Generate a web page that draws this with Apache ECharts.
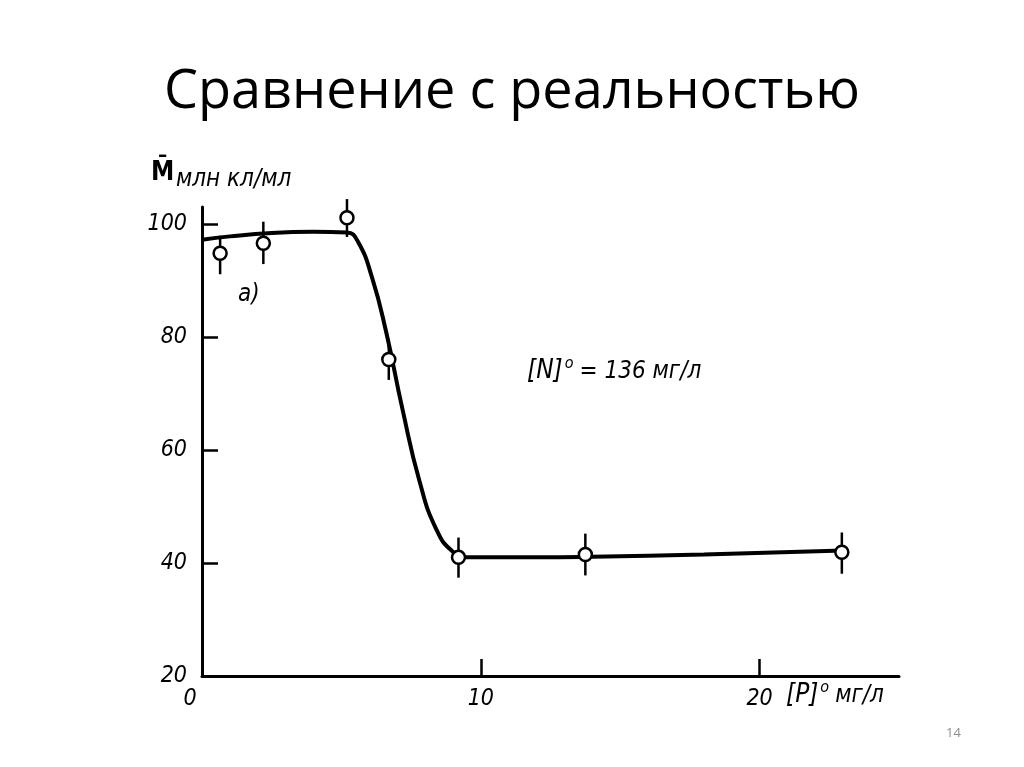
<!DOCTYPE html>
<html>
<head>
<meta charset="utf-8">
<script src="https://cdn.jsdelivr.net/npm/echarts@6/dist/echarts.min.js"></script>
<style>
html,body{margin:0;padding:0;background:#fff;}
#c{width:1024px;height:767px;}
</style>
</head>
<body>
<div id="c"></div>
<script>
// Measured points [P]0 (mg/l) vs M (mln cells/ml)
var pointX = [0.65, 2.2, 5.2, 6.7, 9.2, 13.75, 22.95];
var pointY = [94.8, 96.6, 101.1, 76.0, 41.0, 41.5, 41.9];
var errLow = [91.1, 92.9, 97.7, 72.4, 37.4, 37.8, 38.1];
var errHigh = [97.9, 100.4, 104.4, 79.6, 44.5, 45.2, 45.4];
// Fitted curve
var curveX = [0, 1, 2.5, 4, 5.2, 5.6, 6.1, 6.6, 7.2, 7.8, 8.4, 9.0, 9.6, 12, 14, 18, 23];
var curveY = [97.2, 97.8, 98.4, 98.6, 98.5, 96.8, 90.5, 81.0, 67.0, 54.5, 46.0, 42.0, 41.0, 41.0, 41.1, 41.5, 42.2];
// Ticks
var xTicks = [10, 20];
var xTickLabels = [0, 10, 20];
var yTicks = [40, 60, 80, 100];
var yTickLabels = [20, 40, 60, 80, 100];

var FONT = '"Liberation Sans Narrow","DejaVu Sans Condensed","Liberation Sans",sans-serif';

var chart = echarts.init(document.getElementById('c'));
var pts = pointX.map(function (x, i) { return [x, pointY[i]]; });
var errs = pointX.map(function (x, i) { return [x, errLow[i], errHigh[i]]; });
var curve = curveX.map(function (x, i) { return [x, curveY[i]]; });

chart.setOption({
  backgroundColor: '#fff',
  animation: false,
  title: {
    text: 'Сравнение с реальностью',
    left: 'center',
    top: 61,
    textStyle: { fontFamily: '"Open Sans", sans-serif', fontSize: 54, fontWeight: 'normal', color: '#000' }
  },
  grid: { left: 202, right: 125, top: 207, bottom: 91, containLabel: false },
  xAxis: {
    type: 'value', min: 0, max: 25,
    splitLine: { show: false },
    axisLine: { lineStyle: { color: '#000', width: 3 } },
    axisTick: { inside: true, length: 17, customValues: xTicks, lineStyle: { color: '#000', width: 2.5 } },
    axisLabel: {
      customValues: xTickLabels, margin: 12, color: '#000',
      fontFamily: FONT, fontStyle: 'italic', fontSize: 23,
      formatter: function (v) { return v === 0 ? '{z|0}' : String(v); },
      rich: { z: { fontFamily: FONT, fontStyle: 'italic', fontSize: 23, color: '#000', padding: [0, 24, 0, 0] } }
    }
  },
  yAxis: {
    type: 'value', min: 20, max: 103,
    splitLine: { show: false },
    axisLine: { lineStyle: { color: '#000', width: 3 } },
    axisTick: { inside: true, length: 16, customValues: yTicks, lineStyle: { color: '#000', width: 2.5 } },
    axisLabel: {
      customValues: yTickLabels, margin: 15, color: '#000',
      fontFamily: FONT, fontStyle: 'italic', fontSize: 23
    }
  },
  series: [
    {
      type: 'line', data: curve, smooth: 0.5,
      showSymbol: false, symbol: 'none',
      lineStyle: { color: '#000', width: 4 }, z: 2
    },
    {
      type: 'custom', data: errs, clip: false, z: 3,
      renderItem: function (params, api) {
        var p1 = api.coord([api.value(0), api.value(1)]);
        var p2 = api.coord([api.value(0), api.value(2)]);
        return {
          type: 'line',
          shape: { x1: p1[0], y1: p1[1], x2: p2[0], y2: p2[1] },
          style: { stroke: '#000', lineWidth: 2.5 }
        };
      }
    },
    {
      type: 'scatter', data: pts, symbol: 'circle', symbolSize: 13, z: 4,
      itemStyle: { color: '#fff', borderColor: '#000', borderWidth: 2.5, opacity: 1 }
    }
  ],
  graphic: [
    { type: 'text', left: 151, top: 160, style: { text: 'M\u0304', font: 'bold 26px ' + FONT, fill: '#000' } },
    { type: 'text', left: 176, top: 168, style: { text: 'млн кл/мл', font: 'italic 24px ' + FONT, fill: '#000' } },
    { type: 'text', left: 238, top: 283, style: { text: 'a)', font: 'italic 24px ' + FONT, fill: '#000' } },
    { type: 'text', left: 527, top: 356, style: {
        text: '{b|[N]}{s|o}{t|= 136 мг/л}',
        rich: {
          b: { font: 'italic 26px ' + FONT, fill: '#000', verticalAlign: 'bottom' },
          s: { font: 'italic 16px ' + FONT, fill: '#000', verticalAlign: 'top', padding: [0, 6, 12, 2] },
          t: { font: 'italic 24px ' + FONT, fill: '#000', verticalAlign: 'bottom' }
        } } },
    { type: 'text', left: 786, top: 680, style: {
        text: '{b|[P]}{s|o}{t|мг/л}',
        rich: {
          b: { font: 'italic 26px ' + FONT, fill: '#000', verticalAlign: 'bottom' },
          s: { font: 'italic 16px ' + FONT, fill: '#000', verticalAlign: 'top', padding: [0, 6, 12, 2] },
          t: { font: 'italic 24px ' + FONT, fill: '#000', verticalAlign: 'bottom' }
        } } },
    { type: 'text', left: 946, top: 727, style: { text: '14', font: '13px "Open Sans", sans-serif', fill: '#8c8c8c' } }
  ]
});
</script>
</body>
</html>
